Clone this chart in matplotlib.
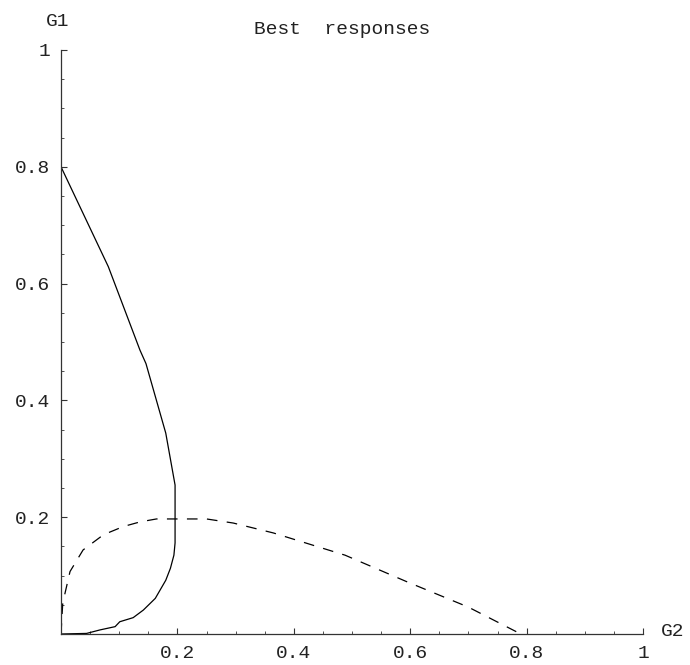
import matplotlib
matplotlib.use('Agg')
from matplotlib import pyplot as plt
from matplotlib.ticker import MultipleLocator, FixedLocator

# best response curves (x = G2, y = G1)
br_solid_x = [0.0, 0.0813, 0.1357, 0.146, 0.180, 0.196, 0.196, 0.194, 0.188, 0.180,
              0.162, 0.1415, 0.124, 0.101, 0.093, 0.067, 0.044, 0.0]
br_solid_y = [0.8, 0.629, 0.486, 0.463, 0.344, 0.255, 0.156, 0.135, 0.1125, 0.092,
              0.061, 0.041, 0.028, 0.021, 0.0126, 0.007, 0.001, 0.0]

br_dashed_x = [0.0, 0.003, 0.0155, 0.038, 0.073, 0.107, 0.136, 0.164, 0.204, 0.25,
               0.296, 0.365, 0.488, 0.594, 0.70, 0.79]
br_dashed_y = [0.0, 0.053, 0.107, 0.144, 0.170, 0.184, 0.192, 0.197, 0.197, 0.197,
               0.190, 0.173, 0.135, 0.0896, 0.046, 0.0]

tick_vals = [0.2, 0.4, 0.6, 0.8, 1.0]
tick_labels = ['0.2', '0.4', '0.6', '0.8', '1']

plt.rcParams['font.family'] = ['Liberation Mono', 'DejaVu Sans Mono']

fig = plt.figure(figsize=(6.9, 6.65), dpi=100)
ax = fig.add_axes([61 / 690, 31 / 665, 582 / 690, 584 / 665])

ax.plot(br_solid_x, br_solid_y, color='black', linewidth=0.9)
ax.plot(br_dashed_x, br_dashed_y, color='black', linewidth=0.9, dashes=(8.5, 7.5))

ax.set_xlim(0, 1)
ax.set_ylim(0, 1)

for side in ['top', 'right']:
    ax.spines[side].set_visible(False)
for side in ['left', 'bottom']:
    ax.spines[side].set_linewidth(0.9)
    ax.spines[side].set_color('#333333')
    ax.spines[side].set_zorder(3)

ax.xaxis.set_major_locator(FixedLocator(tick_vals))
ax.yaxis.set_major_locator(FixedLocator(tick_vals))
ax.set_xticklabels(tick_labels)
ax.set_yticklabels(tick_labels)
ax.xaxis.set_minor_locator(MultipleLocator(0.05))
ax.yaxis.set_minor_locator(MultipleLocator(0.05))

ax.tick_params(which='major', direction='in', length=4, width=0.8, labelsize=14,
               color='#333333', labelcolor='#222222')
ax.tick_params(which='minor', direction='in', length=2.5, width=0.6, color='#333333')
ax.tick_params(axis='x', which='major', pad=8)
ax.tick_params(axis='y', which='major', pad=8)

fig.text(342 / 690, 1 - 30 / 665, 'Best  responses', ha='center', va='center',
         fontsize=14, color='#222222')
fig.text(58 / 690, 1 - 22 / 665, 'G1', ha='center', va='center', fontsize=14, color='#222222')
fig.text(673 / 690, 1 - 632 / 665, 'G2', ha='center', va='center', fontsize=14, color='#222222')

plt.savefig('out.png', dpi=100)
